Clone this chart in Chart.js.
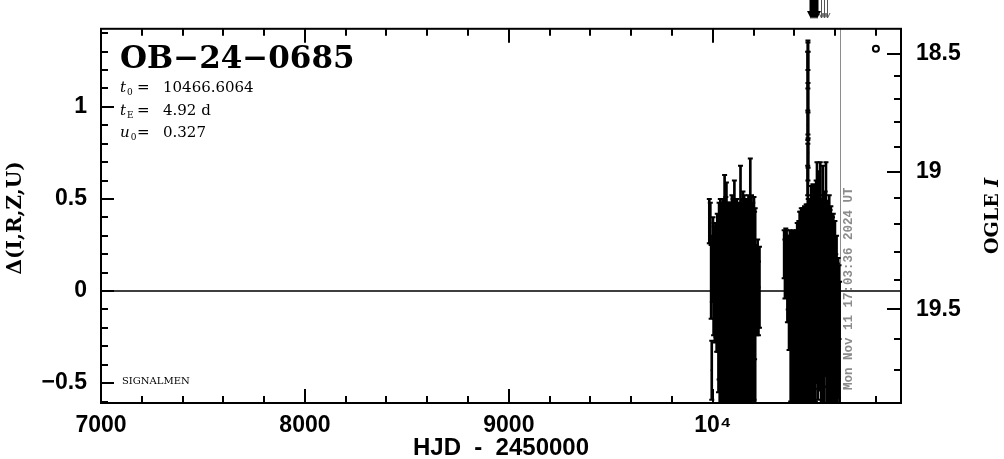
<!DOCTYPE html>
<html>
<head>
<meta charset="utf-8">
<script src="https://cdn.jsdelivr.net/npm/chart.js@4/dist/chart.umd.min.js"></script>
<style>
	html, body { margin: 0; padding: 0; background: #fff; }
	#wrap { width: 1004px; height: 459px; position: relative; }
</style>
</head>
<body>
<div id="wrap"><canvas id="lightCurve"></canvas></div>
<script>
const obsHjd = [
	9983, 9988, 9992, 9995, 9998, 10001, 10004, 10007, 10010, 10013,
	10016, 10019, 10022, 10025, 10028, 10031, 10034, 10037, 10040, 10043,
	10046, 10049, 10052, 10055, 10058, 10061, 10064, 10067, 10070, 10073,
	10076, 10079, 10082, 10085, 10088, 10091, 10094, 10097, 10100, 10103,
	10106, 10109, 10112, 10115, 10118, 10121, 10124, 10127, 10130, 10133,
	10136, 10139, 10142, 10145, 10148, 10151, 10154, 10157, 10160, 10163,
	10166, 10169, 10172, 10175, 10178, 10181, 10184, 10187, 10190, 10193,
	10196, 10199, 10202, 10205, 10208, 10212, 10216, 10220, 10224, 10229,
	10350, 10354, 10358, 10362, 10366, 10370, 10374, 10378, 10382, 10386,
	10390, 10394, 10398, 10402, 10406, 10410, 10414, 10418, 10422, 10426,
	10430, 10434, 10438, 10442, 10446, 10450, 10454, 10458, 10462, 10465.5,
	10466.0, 10466.4, 10466.6, 10466.9, 10467.4, 10468.0, 10471, 10475, 10479, 10483,
	10487, 10491, 10495, 10499, 10503, 10507, 10511, 10515, 10519, 10523,
	10527, 10531, 10535, 10539, 10543, 10547, 10551, 10555, 10559, 10563,
	10567, 10571, 10575, 10579, 10583, 10587, 10591, 10595, 10599, 10603,
	10607, 10611, 10615, 10619, 10622, 10466.2, 10466.5, 10466.7,
];
const obsDelta = [
	0.38, 0.37, 0.05, -0.43, 0.12, 0.25, -0.02, 0.10, 0.00, 0.15,
	0.05, -0.05, 0.12, 0.02, -0.10, 0.00, -0.12, 0.05, -0.08, -0.02,
	-0.10, 0.00, -0.15, -0.05, 0.08, -0.12, -0.04, 0.04, -0.10, -0.06,
	0.00, -0.14, -0.02, -0.08, 0.02, -0.10, -0.04, -0.12, 0.00, -0.06,
	0.06, -0.10, -0.03, -0.08, 0.02, -0.12, -0.04, -0.08, 0.00, -0.10,
	0.10, -0.06, -0.12, 0.00, -0.04, -0.10, 0.02, -0.08, -0.02, -0.12,
	0.00, -0.06, -0.10, 0.02, -0.08, -0.04, 0.14, -0.10, -0.02, -0.08,
	0.00, -0.12, -0.04, 0.03, -0.10, 0.05, -0.02, 0.04, -0.04, 0.02,
	0.20, 0.12, 0.22, 0.15, 0.05, 0.10, -0.02, 0.08, -0.15, 0.00,
	-0.20, -0.05, -0.25, -0.10, -0.22, 0.00, -0.18, -0.08, -0.12, -0.02,
	-0.12, -0.05, -0.15, 0.00, -0.10, -0.06, -0.14, 0.02, -0.08, 0.60,
	0.90, 1.20, 1.28, 1.05, 0.75, 0.40, -0.08, 0.00, -0.12, 0.05,
	-0.06, 0.08, -0.10, 0.02, -0.08, 0.05, 0.12, -0.04, 0.10, -0.02,
	0.14, -0.06, -0.10, 0.12, 0.00, -0.08, 0.04, 0.12, -0.06, -0.02,
	-0.10, 0.02, -0.08, -0.02, -0.14, -0.05, -0.08, -0.18, -0.12, -0.22,
	-0.10, -0.25, -0.20, -0.06, -0.30, 0.50, 0.95, 1.10,
];
const obsErr = [
	0.12, 0.11, 0.20, 0.16, 0.18, 0.15, 0.22, 0.25, 0.28, 0.22,
	0.30, 0.28, 0.30, 0.35, 0.45, 0.48, 0.52, 0.45, 0.55, 0.50,
	0.56, 0.50, 0.55, 0.52, 0.55, 0.52, 0.55, 0.55, 0.50, 0.54,
	0.48, 0.56, 0.50, 0.55, 0.46, 0.52, 0.56, 0.50, 0.50, 0.54,
	0.54, 0.50, 0.52, 0.55, 0.48, 0.55, 0.50, 0.54, 0.48, 0.52,
	0.58, 0.52, 0.55, 0.50, 0.58, 0.52, 0.50, 0.55, 0.52, 0.54,
	0.48, 0.55, 0.52, 0.50, 0.54, 0.50, 0.58, 0.52, 0.54, 0.50,
	0.48, 0.52, 0.55, 0.40, 0.55, 0.20, 0.22, 0.24, 0.20, 0.22,
	0.13, 0.16, 0.12, 0.18, 0.22, 0.20, 0.30, 0.25, 0.45, 0.32,
	0.50, 0.38, 0.52, 0.42, 0.50, 0.33, 0.55, 0.45, 0.50, 0.45,
	0.55, 0.50, 0.58, 0.45, 0.55, 0.52, 0.58, 0.45, 0.55, 0.08,
	0.08, 0.10, 0.08, 0.08, 0.08, 0.10, 0.55, 0.50, 0.58, 0.52,
	0.55, 0.50, 0.58, 0.55, 0.52, 0.55, 0.58, 0.55, 0.55, 0.52,
	0.56, 0.55, 0.52, 0.56, 0.52, 0.55, 0.50, 0.58, 0.55, 0.50,
	0.55, 0.50, 0.52, 0.48, 0.50, 0.45, 0.50, 0.45, 0.50, 0.42,
	0.40, 0.40, 0.38, 0.20, 0.35, 0.30, 0.35, 0.25,
];

// microlensing model curve (flat baseline with the t0 spike)
const modelHjd = [7000, 10455, 10460, 10463, 10465, 10466, 10466.6, 10467.2, 10468.2, 10470, 10473, 10478, 10923];
const modelDelta = [0, 0, 0.05, 0.2, 0.55, 1.0, 1.35, 1.0, 0.55, 0.2, 0.05, 0, 0];

const markHjd = [10800];
const markDelta = [1.315];

const arrowHjd = [10482, 10492, 10501, 10511];
const arrowThinHjd = [10530, 10545, 10560];

const nowHjd = 10626;
const nowLabel = 'Mon Nov 11 17:03:36 2024 UT';

const eventName = 'OB\u221224\u22120685';
const paramNames = ['t', 't', 'u'];
const paramSubs = ['0', 'E', '0'];
const paramValues = ['10466.6064', '4.92 d', '0.327'];

const xTicks = [7000, 8000, 9000, 10000];
const xTickLabels = ['7000', '8000', '9000', '10\u2074'];
const yTicks = [-0.5, 0, 0.5, 1];
const yTickLabels = ['\u22120.5', '0', '0.5', '1'];
const magTicks = [18.5, 19, 19.5];
const magTickLabels = ['18.5', '19', '19.5'];

// OGLE I magnitude -> delta (fitted to the right axis ticks)
const magToDelta = (m) => {
	const n = (m - 18.5) * 10;
	return 1.288 - 0.1173 * n - 0.00214 * n * n;
};

const tickFont = { family: '"Liberation Sans", Arial, sans-serif', weight: 'bold', size: 23 };

const frame = {
	id: 'frame',
	beforeDatasetsDraw(chart) {
		const { ctx, chartArea: a, scales } = chart;
		const px = Math.round(scales.x.getPixelForValue(nowHjd)) + 0.5;
		ctx.save();
		ctx.strokeStyle = '#8c8c8c';
		ctx.lineWidth = 1;
		ctx.beginPath();
		ctx.moveTo(px, a.top);
		ctx.lineTo(px, a.bottom);
		ctx.stroke();
		ctx.restore();
	},
	afterDraw(chart) {
		const { ctx, chartArea: a, scales } = chart;
		const { x, y, y2 } = scales;
		ctx.save();

		// frame and tick marks
		ctx.strokeStyle = '#000';
		ctx.lineWidth = 2;
		ctx.strokeRect(a.left, a.top, a.right - a.left, a.bottom - a.top);
		ctx.beginPath();
		for (let v = 7000; v <= 10900; v += 200) {
			const len = v % 1000 === 0 ? 14 : 7;
			const px = Math.round(x.getPixelForValue(v));
			ctx.moveTo(px, a.bottom);
			ctx.lineTo(px, a.bottom - len);
			ctx.moveTo(px, a.top);
			ctx.lineTo(px, a.top + len);
		}
		for (let k = -6; k <= 14; k++) {
			const len = k % 5 === 0 ? 13 : 7;
			const py = Math.round(y.getPixelForValue(k / 10));
			ctx.moveTo(a.left, py);
			ctx.lineTo(a.left + len, py);
		}
		for (let k = 185; k <= 197; k++) {
			const len = k % 5 === 0 ? 14 : 7;
			const py = Math.round(y2.getPixelForValue(magToDelta(k / 10)));
			ctx.moveTo(a.right, py);
			ctx.lineTo(a.right - len, py);
		}
		ctx.stroke();

		// arrows above the frame
		ctx.fillStyle = '#000';
		arrowHjd.forEach((t) => {
			const px = Math.round(x.getPixelForValue(t));
			ctx.fillRect(px - 1.5, 0, 3, 12);
			ctx.beginPath();
			ctx.moveTo(px - 4, 11);
			ctx.lineTo(px + 4, 11);
			ctx.lineTo(px, 19);
			ctx.closePath();
			ctx.fill();
		});
		ctx.strokeStyle = '#555';
		ctx.lineWidth = 1;
		arrowThinHjd.forEach((t) => {
			const px = Math.round(x.getPixelForValue(t)) + 0.5;
			ctx.beginPath();
			ctx.moveTo(px, 0);
			ctx.lineTo(px, 18);
			ctx.moveTo(px - 2.5, 13);
			ctx.lineTo(px, 18);
			ctx.lineTo(px + 2.5, 13);
			ctx.stroke();
		});

		// date stamp next to the "now" line
		ctx.save();
		ctx.translate(x.getPixelForValue(nowHjd) + 8, 390);
		ctx.rotate(-Math.PI / 2);
		ctx.fillStyle = '#8c8c8c';
		ctx.font = 'bold 12.5px "Liberation Mono", monospace';
		ctx.textAlign = 'left';
		ctx.textBaseline = 'middle';
		ctx.fillText(nowLabel, 0, 0);
		ctx.restore();

		// event name and parameters
		ctx.fillStyle = '#000';
		ctx.textAlign = 'left';
		ctx.textBaseline = 'alphabetic';
		ctx.font = 'bold 31px "DejaVu Serif", serif';
		ctx.fillText(eventName, 120, 68);
		paramNames.forEach((name, i) => {
			const base = 92 + i * 22.5;
			ctx.font = 'italic 15px "DejaVu Serif", serif';
			ctx.fillText(name, 120, base);
			const w = ctx.measureText(name).width;
			ctx.font = '9px "DejaVu Serif", serif';
			ctx.fillText(paramSubs[i], 121 + w, base + 3);
			ctx.font = '15px "DejaVu Serif", serif';
			ctx.fillText('=', 137, base);
			ctx.fillText(paramValues[i], 163, base);
		});
		ctx.font = '10px "DejaVu Serif", serif';
		ctx.fillText('SIGNALMEN', 122, 384);

		// axis titles
		const midY = (a.top + a.bottom) / 2;
		ctx.textAlign = 'center';
		ctx.textBaseline = 'middle';
		ctx.save();
		ctx.translate(16, midY + 2);
		ctx.rotate(-Math.PI / 2);
		ctx.font = 'bold 20px "DejaVu Serif", serif';
		ctx.fillText('\u0394(I,R,Z,U)', 0, 0);
		ctx.restore();

		ctx.save();
		ctx.translate(993, midY);
		ctx.rotate(-Math.PI / 2);
		ctx.font = 'bold 19px "DejaVu Serif", serif';
		const wOgle = ctx.measureText('OGLE ').width;
		ctx.font = 'bold italic 19px "DejaVu Serif", serif';
		const wI = ctx.measureText('I').width;
		const start = -(wOgle + wI) / 2;
		ctx.textAlign = 'left';
		ctx.font = 'bold 19px "DejaVu Serif", serif';
		ctx.fillText('OGLE ', start, 0);
		ctx.font = 'bold italic 19px "DejaVu Serif", serif';
		ctx.fillText('I', start + wOgle, 0);
		ctx.restore();

		ctx.font = 'bold 24px "Liberation Sans", Arial, sans-serif';
		ctx.fillText('HJD  -  2450000', (a.left + a.right) / 2, 448);
		ctx.restore();
	},
};

const errorBars = obsHjd.map((t, i) => ({ x: t, y: [obsDelta[i] - obsErr[i], obsDelta[i] + obsErr[i]] }));
const capsLow = obsHjd.map((t, i) => ({ x: t, y: obsDelta[i] - obsErr[i] }));
const capsHigh = obsHjd.map((t, i) => ({ x: t, y: obsDelta[i] + obsErr[i] }));
const points = obsHjd.map((t, i) => ({ x: t, y: obsDelta[i] }));

new Chart(document.getElementById('lightCurve'), {
	type: 'scatter',
	data: {
		datasets: [
			{
				type: 'line',
				data: modelHjd.map((t, i) => ({ x: t, y: modelDelta[i] })),
				borderColor: '#000',
				borderWidth: 1.4,
				pointRadius: 0,
				tension: 0,
				clip: 0,
			},
			{
				type: 'bar',
				data: errorBars,
				backgroundColor: '#000',
				borderWidth: 0,
				barThickness: 2,
				grouped: false,
				clip: 0,
			},
			{
				data: capsLow,
				pointStyle: 'line',
				pointRadius: 2.5,
				borderColor: '#000',
				borderWidth: 2,
				clip: 0,
			},
			{
				data: capsHigh,
				pointStyle: 'line',
				pointRadius: 2.5,
				borderColor: '#000',
				borderWidth: 2,
				clip: 0,
			},
			{
				data: points,
				pointStyle: 'rect',
				pointRadius: 1.5,
				backgroundColor: '#000',
				borderWidth: 0,
				clip: 0,
			},
			{
				data: markHjd.map((t, i) => ({ x: t, y: markDelta[i] })),
				pointStyle: 'circle',
				pointRadius: 3,
				borderColor: '#000',
				borderWidth: 2,
				backgroundColor: '#fff',
			},
		],
	},
	options: {
		animation: false,
		responsive: true,
		maintainAspectRatio: false,
		layout: { padding: { top: 27, left: 0, right: 0, bottom: 0 } },
		plugins: { legend: { display: false }, tooltip: { enabled: false } },
		scales: {
			x: {
				type: 'linear',
				min: 7000,
				max: 10923,
				offset: false,
				afterBuildTicks: (s) => { s.ticks = xTicks.map((v) => ({ value: v })); },
				afterFit: (s) => { s.height = 56; },
				grid: { display: false, drawTicks: false },
				border: { display: false },
				ticks: {
					color: '#000',
					font: tickFont,
					padding: 9,
					maxRotation: 0,
					callback: (v, i) => xTickLabels[i],
				},
			},
			y: {
				type: 'linear',
				position: 'left',
				min: -0.608,
				max: 1.424,
				afterBuildTicks: (s) => { s.ticks = yTicks.map((v) => ({ value: v })); },
				afterFit: (s) => { s.width = 101; },
				grid: { display: false, drawTicks: false },
				border: { display: false },
				ticks: {
					color: '#000',
					font: tickFont,
					padding: 14,
					callback: (v, i) => yTickLabels[i],
				},
			},
			y2: {
				type: 'linear',
				position: 'right',
				min: -0.608,
				max: 1.424,
				afterBuildTicks: (s) => { s.ticks = magTicks.map((m) => ({ value: magToDelta(m) })); },
				afterFit: (s) => { s.width = 103; },
				grid: { display: false, drawTicks: false },
				border: { display: false },
				ticks: {
					color: '#000',
					font: tickFont,
					padding: 15,
					callback: (v, i) => magTickLabels[i],
				},
			},
		},
	},
	plugins: [frame],
});
</script>
</body>
</html>
